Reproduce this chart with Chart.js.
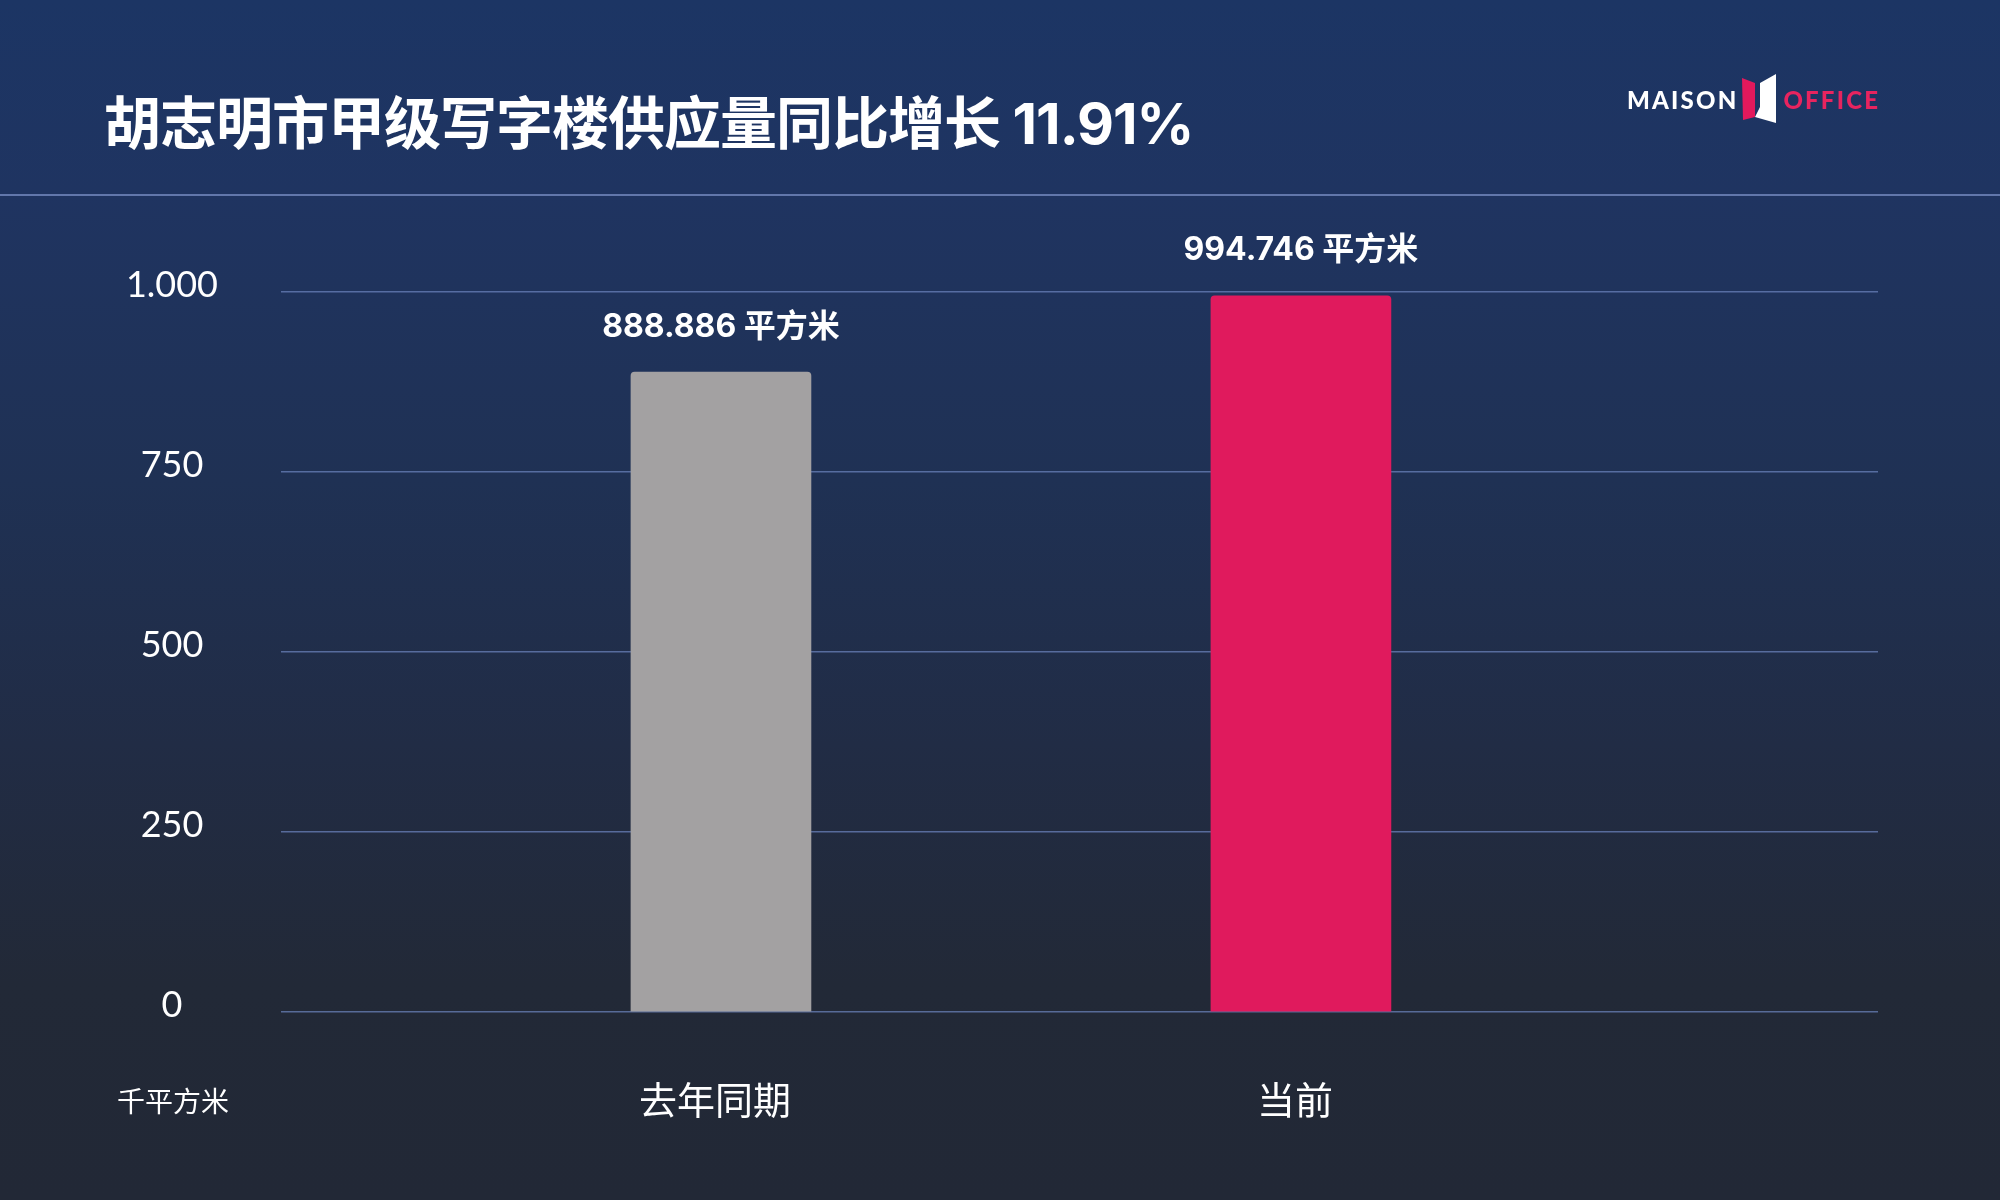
<!DOCTYPE html>
<html>
<head>
<meta charset="utf-8">
<script src="https://cdn.jsdelivr.net/npm/chart.js@4/dist/chart.umd.min.js"></script>
<style>
  html, body { margin: 0; padding: 0; }
  body {
    width: 2000px; height: 1200px; overflow: hidden; position: relative;
    background: linear-gradient(180deg, #1c3564 0%, #1f3461 16%, #1f3154 40%, #212c45 62%, #222937 82%, #222836 100%);
    font-family: "Noto Sans CJK SC", "Noto Sans", sans-serif;
  }
  #title {
    position: absolute; left: 104px; top: 86px; margin: 0;
    color: #fff; font-size: 57px; font-weight: 700; line-height: 76px;
    font-family: "Inter", "Noto Sans CJK SC", sans-serif; letter-spacing: -1px;
    white-space: nowrap;
  }
  #rule { position: absolute; left: 0; top: 194px; width: 2000px; height: 2px; background: rgba(110,132,185,0.85); }
  #logo { position: absolute; left: 1627px; top: 74px; height: 50px; display: flex; align-items: center; }
  #logo span { font-family: "Lato", "Inter", sans-serif; font-weight: 900; font-size: 24px; letter-spacing: 2.2px; }
  #unit { position: absolute; left: 117px; top: 1080px; color: #fff; font-size: 28px; font-family: "Noto Sans CJK SC", sans-serif; }
  #wrap { position: absolute; left: 0; top: 0; width: 2000px; height: 1200px; }
</style>
</head>
<body>
<div id="wrap"><canvas id="c" width="2000" height="1200"></canvas></div>
<div id="title">胡志明市甲级写字楼供应量同比增长 11.91%</div>
<div id="rule"></div>
<div id="logo">
  <span style="color:#ffffff">MAISON</span>
  <svg width="36" height="50" viewBox="0 0 36 50" style="margin:0 6px 0 3px">
    <polygon points="1,4 14,9 14,43 2,46" fill="#e2195c"/>
    <polygon points="19,9 35,0 35,49 14,43 19,33" fill="#ffffff"/>
  </svg>
  <span style="color:#e8245f">OFFICE</span>
</div>
<div id="unit">千平方米</div>
<script>
const categories = ['去年同期', '当前'];
const values = [888.886, 994.746];
const valueLabels = ['888.886 平方米', '994.746 平方米'];
const yTicks = [0, 250, 500, 750, 1000];
const yTickLabels = ['0', '250', '500', '750', '1.000'];
const barColors = ['#a3a1a2', '#e01a5d'];

const valueLabelPlugin = {
  id: 'valueLabels',
  afterDatasetsDraw(chart) {
    const ctx = chart.ctx;
    const meta = chart.getDatasetMeta(0);
    ctx.save();
    ctx.fillStyle = '#ffffff';
    ctx.font = '700 32px "Inter", "Noto Sans CJK SC", sans-serif';
    ctx.textAlign = 'center';
    ctx.textBaseline = 'middle';
    meta.data.forEach((bar, i) => {
      ctx.fillText(valueLabels[i], bar.x, bar.y - 45);
    });
    ctx.restore();
  }
};

new Chart(document.getElementById('c'), {
  type: 'bar',
  data: {
    datasets: [{
      data: values.map((v, i) => ({ x: i, y: v })),
      backgroundColor: barColors,
      borderRadius: 4,
      borderSkipped: 'bottom',
      barThickness: 180
    }]
  },
  options: {
    responsive: false,
    animation: false,
    layout: { padding: { left: 0, right: 122, top: 292, bottom: 60 } },
    plugins: { legend: { display: false }, tooltip: { enabled: false } },
    scales: {
      x: {
        type: 'linear',
        offset: false,
        min: -0.7586,
        max: 1.995,
        grid: { display: false },
        border: { display: false },
        afterBuildTicks(scale) { scale.ticks = categories.map((c, i) => ({ value: i })); },
        afterFit(scale) { scale.height = 128; },
        ticks: {
          callback: (v) => categories[v] ?? '',
          color: '#ffffff',
          font: { family: '"Noto Sans CJK SC", sans-serif', size: 38 },
          padding: 57,
          labelOffset: -6,
          maxRotation: 0,
          autoSkip: false
        }
      },
      y: {
        min: 0,
        max: 1000,
        afterBuildTicks(scale) { scale.ticks = yTicks.map(v => ({ value: v })); },
        afterFit(scale) { scale.width = 281; },
        grid: { color: 'rgba(105,130,185,0.75)', lineWidth: 1.5, drawTicks: false },
        border: { display: false },
        ticks: {
          callback: (v) => yTickLabels[yTicks.indexOf(v)],
          color: '#ffffff',
          font: { family: '"Lato", sans-serif', size: 36 },
          crossAlign: 'center',
          labelOffset: -7,
          padding: 63
        }
      }
    }
  },
  plugins: [valueLabelPlugin]
});
</script>
</body>
</html>
